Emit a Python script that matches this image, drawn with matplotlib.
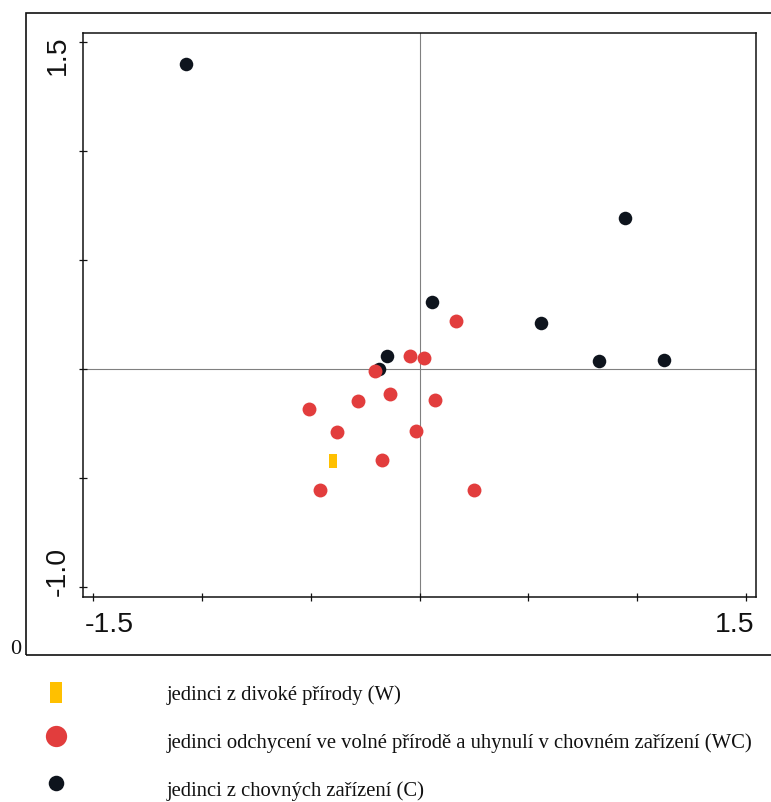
import matplotlib
matplotlib.use("Agg")
import matplotlib.pyplot as plt
from matplotlib.patches import Rectangle

# skóre jedinců na prvních dvou osách
w_x = [-0.400]
w_y = [-0.419]

wc_x = [0.168, -0.043, 0.018, -0.204, -0.135, -0.284, 0.070, -0.509, -0.380, -0.016, -0.172, -0.460, 0.250]
wc_y = [0.222, 0.061, 0.053, -0.009, -0.113, -0.145, -0.139, -0.181, -0.288, -0.284, -0.417, -0.554, -0.554]

c_x = [-1.074, 0.944, 0.057, 0.558, -0.150, -0.187, 0.824, 1.123]
c_y = [1.401, 0.694, 0.309, 0.213, 0.061, 0.001, 0.038, 0.043]

x_ticks = [-1.5, -1.0, -0.5, 0.0, 0.5, 1.0, 1.5]
y_ticks = [-1.0, -0.5, 0.0, 0.5, 1.0, 1.5]

labels = [
    "jedinci z divoké přírody (W)",
    "jedinci odchycení ve volné přírodě a uhynulí v chovném zařízení (WC)",
    "jedinci z chovných zařízení (C)",
]

YELLOW = "#ffc000"
RED = "#e23d3d"
BLACK = "#0e141d"

# obdélníková značka pro skupinu W
rect_marker = [(-0.27, -0.5), (0.27, -0.5), (0.27, 0.5), (-0.27, 0.5), (-0.27, -0.5)]
# v legendě je obdélník o kus níž než kolečka
rect_marker_leg = [(-5.85, -15.3), (5.85, -15.3), (5.85, 6.3), (-5.85, 6.3), (-5.85, -15.3)]

W, H = 771, 803
fig = plt.figure(figsize=(W / 100, H / 100), dpi=100)

ax = fig.add_axes([83.3 / W, 1 - 598 / H, (756 - 83.3) / W, (598 - 34) / H])
ax.set_xlim(-1.546, 1.546)
ax.set_ylim(-1.044, 1.543)

ax.axhline(0, color="#808080", lw=0.8, zorder=1)
ax.axvline(0, color="#808080", lw=0.8, zorder=1)

ax.scatter(c_x, c_y, s=95, color=BLACK, linewidths=0, zorder=3)
ax.scatter(wc_x, wc_y, s=100, color=RED, linewidths=0, zorder=4)
ax.scatter(w_x, w_y, s=95, marker=rect_marker, color=YELLOW, linewidths=0, zorder=4)

for sp in ax.spines.values():
    sp.set_linewidth(1.1)
    sp.set_color("#111111")

ax.set_xticks(x_ticks)
ax.set_yticks(y_ticks)
ax.set_xticklabels([])
ax.set_yticklabels([])
ax.tick_params(direction="inout", length=6, width=0.9, color="#111111")

# popisky os umístěné ručně (posunuté dovnitř)
tick_font = dict(family="Liberation Sans", fontsize=20.5, color="#111111")
fig.text(109 / W, 1 - 625 / H, "-1.5", ha="center", va="center", **tick_font)
fig.text(735 / W, 1 - 625 / H, "1.5", ha="center", va="center", **tick_font)
fig.text(57.5 / W, 1 - 55 / H, "1.5", ha="center", va="center", rotation=90, **tick_font)
fig.text(57.5 / W, 1 - 571 / H, "-1.0", ha="center", va="center", rotation=90, **tick_font)

fig.text(16 / W, 1 - 650 / H, "0", ha="center", va="center",
         family="Liberation Serif", fontsize=16, color="#111111")

# vnější rámeček kolem grafu
frame = Rectangle((26 / W, 1 - 656 / H), 1.0, (656 - 14) / H, transform=fig.transFigure,
                  fill=False, lw=1.2, edgecolor="#111111")
fig.patches.append(frame)

# prázdné scattery jen kvůli značkám v legendě
handles = [
    ax.scatter([], [], s=485, marker=rect_marker_leg, color=YELLOW, linewidths=0),
    ax.scatter([], [], s=235, marker="o", color=RED, linewidths=0),
    ax.scatter([], [], s=125, marker="o", color=BLACK, linewidths=0),
]
leg = fig.legend(handles, labels, loc="upper left", bbox_to_anchor=(35.3 / W, 1 - 685.5 / H),
                 frameon=False, borderpad=0, borderaxespad=0, handlelength=2.0,
                 handletextpad=4.33, labelspacing=1.36, scatterpoints=1,
                 scatteryoffsets=[0.8],
                 prop=dict(family="Liberation Serif", size=14.9))
for t in leg.get_texts():
    t.set_color("#111111")

fig.savefig("out.png", dpi=100)
